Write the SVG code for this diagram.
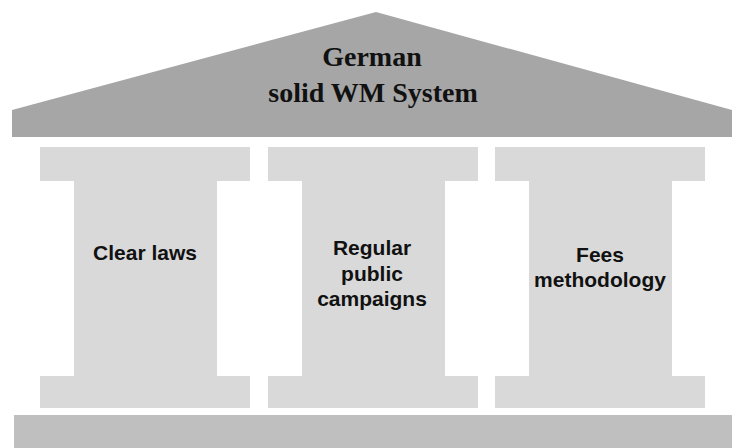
<svg xmlns="http://www.w3.org/2000/svg" width="732" height="448" viewBox="0 0 732 448">
  <style>
    .roof { fill: #a6a6a6; }
    .pillar { fill: #d9d9d9; }
    .base { fill: #bfbfbf; }
    .roof-text { font-family: "Liberation Serif", "Times New Roman", serif; font-weight: bold; font-size: 28px; fill: #111; text-anchor: middle; }
    .pillar-text { font-family: "Liberation Sans", Arial, sans-serif; font-weight: bold; font-size: 21px; fill: #111; text-anchor: middle; }
  </style>
  <defs>
    <!-- I-shaped column: capital, shaft, plinth (origin at capital's top-left) -->
    <path id="column" d="M0,0 H210 V34 H177 V229 H210 V261 H0 V229 H34 V34 H0 Z"/>
  </defs>

  <g id="roof">
    <polygon class="roof" points="12,110 376,12 732,110 732,137 12,137"/>
    <text class="roof-text" x="372" y="66">German</text>
    <text class="roof-text" x="373" y="102">solid WM System</text>
  </g>

  <g id="pillar-laws">
    <use href="#column" class="pillar" x="40" y="147"/>
    <text class="pillar-text" x="145" y="260">Clear laws</text>
  </g>

  <g id="pillar-campaigns">
    <use href="#column" class="pillar" x="268" y="147"/>
    <text class="pillar-text" x="372" y="255">Regular</text>
    <text class="pillar-text" x="372" y="281">public</text>
    <text class="pillar-text" x="372" y="306">campaigns</text>
  </g>

  <g id="pillar-fees">
    <use href="#column" class="pillar" x="495" y="147"/>
    <text class="pillar-text" x="600" y="262">Fees</text>
    <text class="pillar-text" x="600" y="287">methodology</text>
  </g>

  <g id="foundation">
    <rect class="base" x="14" y="415" width="718" height="33"/>
  </g>

  <g id="connectors"></g>
</svg>
